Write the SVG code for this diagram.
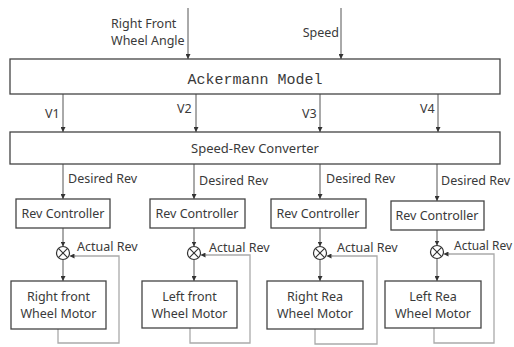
<svg xmlns="http://www.w3.org/2000/svg" width="514" height="347" viewBox="0 0 514 347">
<defs>
<marker id="ah" viewBox="0 0 6 6" refX="6" refY="3" markerWidth="5" markerHeight="5" orient="auto" markerUnits="userSpaceOnUse">
<path d="M0,0 L6,3 L0,6 Z" fill="#333"/>
</marker>
</defs>
<style>
.box{fill:#fff;stroke:#444;stroke-width:1.3}
.t{font-family:"Noto Sans","Open Sans","Liberation Sans",sans-serif;fill:#3a3a3a}
.mono{font-family:"Liberation Mono","DejaVu Sans Mono",monospace;fill:#3a3a3a;font-size:15px}
.ar{stroke:#555;stroke-width:1;fill:none;marker-end:url(#ah)}
.fb{stroke:#aaa;stroke-width:1.3;fill:none}
.sum{fill:#fff;stroke:#333;stroke-width:1.2}
</style>
<rect width="514" height="347" fill="#fff"/>
<g id="connectors">
<path class="ar" d="M188,8 V59"/>
<path class="ar" d="M341,8 V59"/>
<path class="ar" d="M63,94 V132"/>
<path class="ar" d="M196,94 V132"/>
<path class="ar" d="M320,94 V132"/>
<path class="ar" d="M438,94 V132"/>
<path class="ar" d="M63,164 V199"/>
<path class="ar" d="M194,164 V199"/>
<path class="ar" d="M320,164 V199"/>
<path class="ar" d="M437,164 V201"/>
<path class="ar" d="M63,228 V246.5"/>
<path class="ar" d="M194,228 V246.5"/>
<path class="ar" d="M320,228 V246.5"/>
<path class="ar" d="M437,230 V245.5"/>
<path class="ar" d="M63,259.5 V281"/>
<path class="ar" d="M194,259.5 V281"/>
<path class="ar" d="M320,259.5 V281"/>
<path class="ar" d="M437,258.5 V281"/>
<path class="fb" d="M58,329 V343 H119 V256 H75"/>
<path class="ar" d="M76,256 H69.5" style="stroke:#aaa"/>
<path class="fb" d="M190,328 V343 H250 V255 H206"/>
<path class="ar" d="M207,255 H200.5" style="stroke:#aaa"/>
<path class="fb" d="M315,329 V344 H377 V256 H332"/>
<path class="ar" d="M333,256 H326.5" style="stroke:#aaa"/>
<path class="fb" d="M434,328 V343 H494 V254 H449"/>
<path class="ar" d="M450,254 H443.5" style="stroke:#aaa"/>
</g>
<g id="inputs">
<text class="t" font-size="12.5" x="111" y="28">Right Front</text>
<text class="t" font-size="12.5" x="111" y="45">Wheel Angle</text>
<text class="t" font-size="12.5" x="339" y="37" text-anchor="end">Speed</text>
</g>
<g id="ackermann">
<rect class="box" x="10" y="59" width="490" height="35"/>
<text class="mono" x="255" y="84" text-anchor="middle">Ackermann Model</text>
</g>
<g id="v-labels">
<text class="t" font-size="12.5" x="45" y="118">V1</text>
<text class="t" font-size="12.5" x="177" y="113">V2</text>
<text class="t" font-size="12.5" x="302" y="118">V3</text>
<text class="t" font-size="12.5" x="420" y="113">V4</text>
</g>
<g id="converter">
<rect class="box" x="10" y="132" width="490" height="32"/>
<text class="t" font-size="13" x="255" y="153" text-anchor="middle">Speed-Rev Converter</text>
</g>
<g id="desired-labels">
<text class="t" font-size="12.5" x="68" y="183">Desired Rev</text>
<text class="t" font-size="12.5" x="199" y="185">Desired Rev</text>
<text class="t" font-size="12.5" x="326" y="183">Desired Rev</text>
<text class="t" font-size="12.5" x="441" y="185">Desired Rev</text>
</g>
<g id="rc1"><rect class="box" x="16" y="199" width="94" height="29"/><text class="t" font-size="12.5" x="63" y="218" text-anchor="middle">Rev Controller</text></g>
<g id="rc2"><rect class="box" x="150" y="199" width="95" height="29"/><text class="t" font-size="12.5" x="197" y="218" text-anchor="middle">Rev Controller</text></g>
<g id="rc3"><rect class="box" x="271" y="199" width="95" height="29"/><text class="t" font-size="12.5" x="318" y="218" text-anchor="middle">Rev Controller</text></g>
<g id="rc4"><rect class="box" x="391" y="201" width="93" height="29"/><text class="t" font-size="12.5" x="437" y="220" text-anchor="middle">Rev Controller</text></g>
<g id="sum1"><circle class="sum" cx="63" cy="253" r="6.5"/><path d="M58.4,248.4 L67.6,257.6 M67.6,248.4 L58.4,257.6" stroke="#333" stroke-width="1.1"/></g>
<g id="sum2"><circle class="sum" cx="194" cy="253" r="6.5"/><path d="M189.4,248.4 L198.6,257.6 M198.6,248.4 L189.4,257.6" stroke="#333" stroke-width="1.1"/></g>
<g id="sum3"><circle class="sum" cx="320" cy="253" r="6.5"/><path d="M315.4,248.4 L324.6,257.6 M324.6,248.4 L315.4,257.6" stroke="#333" stroke-width="1.1"/></g>
<g id="sum4"><circle class="sum" cx="437" cy="252" r="6.5"/><path d="M432.4,247.4 L441.6,256.6 M441.6,247.4 L432.4,256.6" stroke="#333" stroke-width="1.1"/></g>
<g id="actual-labels">
<text class="t" font-size="12.5" x="77" y="251">Actual Rev</text>
<text class="t" font-size="12.5" x="209" y="252">Actual Rev</text>
<text class="t" font-size="12.5" x="337" y="252">Actual Rev</text>
<text class="t" font-size="12" x="454" y="250" textLength="58" lengthAdjust="spacingAndGlyphs">Actual Rev</text>
</g>
<g id="m1"><rect class="box" x="11" y="281" width="95" height="48"/><text class="t" font-size="12.5" x="58.5" y="301" text-anchor="middle">Right front</text><text class="t" font-size="12.5" x="58.5" y="318" text-anchor="middle">Wheel Motor</text></g>
<g id="m2"><rect class="box" x="142" y="281" width="95" height="47"/><text class="t" font-size="12.5" x="189.5" y="301" text-anchor="middle">Left front</text><text class="t" font-size="12.5" x="189.5" y="318" text-anchor="middle">Wheel Motor</text></g>
<g id="m3"><rect class="box" x="267" y="281" width="96" height="48"/><text class="t" font-size="12.5" x="315" y="301" text-anchor="middle">Right Rea</text><text class="t" font-size="12.5" x="315" y="318" text-anchor="middle">Wheel Motor</text></g>
<g id="m4"><rect class="box" x="385" y="281" width="96" height="47"/><text class="t" font-size="12.5" x="433" y="301" text-anchor="middle">Left Rea</text><text class="t" font-size="12.5" x="433" y="318" text-anchor="middle">Wheel Motor</text></g>
</svg>
